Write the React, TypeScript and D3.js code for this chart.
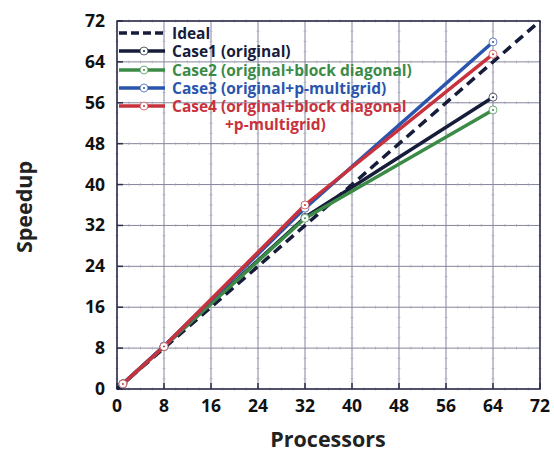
import * as d3 from 'd3';
import { useEffect, useRef } from 'react';

// processors at which each case was measured
const processors = [1, 8, 32, 64];
const case1 = [1, 8.3, 33.6, 57.1];
const case2 = [1, 8.3, 33.4, 54.6];
const case3 = [1, 8.4, 35.4, 67.9];
const case4 = [1, 8.3, 36.0, 65.5];
const idealX = [0, 72];
const ticks = [0, 8, 16, 24, 32, 40, 48, 56, 64, 72];

const series = [
  { name: 'Case1 (original)', values: case1, color: '#161c3a' },
  { name: 'Case2 (original+block diagonal)', values: case2, color: '#3b8b47' },
  { name: 'Case3 (original+p-multigrid)', values: case3, color: '#2b55ad' },
  { name: 'Case4 (original+block diagonal', extra: '+p-multigrid)', values: case4, color: '#c8323d' },
];

const App = () => {
  const ref = useRef(null);

  useEffect(() => {
    const svg = d3.select(ref.current);
    svg.selectAll('*').remove();

    const width = 554;
    const height = 452;
    const margin = { top: 21, right: 14, bottom: 63, left: 117 };
    const font = '"Open Sans", "DejaVu Sans", sans-serif';

    const x = d3.scaleLinear().domain([0, 72]).range([margin.left, width - margin.right]);
    const y = d3.scaleLinear().domain([0, 72]).range([height - margin.bottom, margin.top]);

    svg.attr('width', width).attr('height', height);

    // grid
    const grid = svg.append('g');
    ticks.forEach(t => {
      grid.append('line')
        .attr('x1', x(t)).attr('x2', x(t))
        .attr('y1', y(0)).attr('y2', y(72))
        .attr('stroke', '#85859c').attr('stroke-width', 1);
      grid.append('line')
        .attr('x1', x(0)).attr('x2', x(72))
        .attr('y1', y(t)).attr('y2', y(t))
        .attr('stroke', '#85859c').attr('stroke-width', 1);
    });
    // small minor marks along the grid lines
    const minor = d3.range(0, 73, 2).filter(v => v % 8 !== 0);
    ticks.forEach(t => {
      minor.forEach(m => {
        grid.append('line')
          .attr('x1', x(t) - 1.5).attr('x2', x(t) + 1.5)
          .attr('y1', y(m)).attr('y2', y(m))
          .attr('stroke', '#a8a8b8').attr('stroke-width', 0.7);
        grid.append('line')
          .attr('x1', x(m)).attr('x2', x(m))
          .attr('y1', y(t) - 1.5).attr('y2', y(t) + 1.5)
          .attr('stroke', '#a8a8b8').attr('stroke-width', 0.7);
      });
    });

    // frame
    svg.append('rect')
      .attr('x', x(0)).attr('y', y(72))
      .attr('width', x(72) - x(0)).attr('height', y(0) - y(72))
      .attr('fill', 'none').attr('stroke', '#2a2c48').attr('stroke-width', 1.5);

    // major ticks
    ticks.forEach(t => {
      svg.append('line')
        .attr('x1', x(t)).attr('x2', x(t))
        .attr('y1', y(0)).attr('y2', y(0) - 6)
        .attr('stroke', '#2a2c48').attr('stroke-width', 1.5);
      svg.append('line')
        .attr('x1', x(0)).attr('x2', x(0) + 6)
        .attr('y1', y(t)).attr('y2', y(t))
        .attr('stroke', '#2a2c48').attr('stroke-width', 1.5);
    });

    // tick labels
    svg.append('g').selectAll('text')
      .data(ticks).enter().append('text')
      .attr('x', d => x(d)).attr('y', y(0) + 23)
      .attr('text-anchor', 'middle')
      .style('font-family', font).style('font-size', '17.5px').style('font-weight', 'bold')
      .attr('fill', '#111')
      .text(d => d);
    svg.append('g').selectAll('text')
      .data(ticks).enter().append('text')
      .attr('x', x(0) - 12).attr('y', d => y(d) + 6)
      .attr('text-anchor', 'end')
      .style('font-family', font).style('font-size', '17.5px').style('font-weight', 'bold')
      .attr('fill', '#111')
      .text(d => d);

    // axis titles
    svg.append('text')
      .attr('x', 328).attr('y', 447)
      .attr('text-anchor', 'middle')
      .style('font-family', font).style('font-size', '21.5px').style('font-weight', 'bold')
      .attr('fill', '#222')
      .text('Processors');
    svg.append('text')
      .attr('transform', `translate(32, 207) rotate(-90)`)
      .attr('text-anchor', 'middle')
      .style('font-family', font).style('font-size', '21.5px').style('font-weight', 'bold')
      .attr('fill', '#222')
      .text('Speedup');

    // ideal
    svg.append('line')
      .attr('x1', x(idealX[0])).attr('y1', y(idealX[0]))
      .attr('x2', x(idealX[1])).attr('y2', y(idealX[1]))
      .attr('stroke', '#161c3a').attr('stroke-width', 3.5)
      .attr('stroke-dasharray', '10,6');

    const line = d3.line().x(d => x(d[0])).y(d => y(d[1]));

    series.forEach(s => {
      const pts = processors.map((p, i) => [p, s.values[i]]);
      svg.append('path')
        .attr('d', line(pts))
        .attr('fill', 'none')
        .attr('stroke', s.color).attr('stroke-width', 3.5)
        .attr('stroke-linejoin', 'round');
    });

    const marker = (cx, cy, color) => {
      svg.append('circle')
        .attr('cx', cx).attr('cy', cy).attr('r', 4)
        .attr('fill', 'white').attr('stroke', color).attr('stroke-width', 1)
        .attr('stroke-opacity', 0.7);
      svg.append('circle')
        .attr('cx', cx).attr('cy', cy).attr('r', 1)
        .attr('fill', color);
    };
    series.forEach(s => {
      processors.forEach((p, i) => marker(x(p), y(s.values[i]), s.color));
    });

    // legend
    const legend = svg.append('g');
    const rows = [{ name: 'Ideal', color: '#161c3a', dashed: true }, ...series];
    const rowY = [33, 51, 70, 88, 106];
    rows.forEach((r, i) => {
      const ly = rowY[i];
      legend.append('line')
        .attr('x1', 119).attr('x2', 165)
        .attr('y1', ly).attr('y2', ly)
        .attr('stroke', r.color).attr('stroke-width', 3.5)
        .attr('stroke-dasharray', r.dashed ? '8,4' : null);
      if (!r.dashed) {
        legend.append('circle')
          .attr('cx', 144).attr('cy', ly).attr('r', 4)
          .attr('fill', 'white').attr('stroke', r.color).attr('stroke-width', 1)
          .attr('stroke-opacity', 0.7);
        legend.append('circle').attr('cx', 144).attr('cy', ly).attr('r', 1).attr('fill', r.color);
      }
      legend.append('text')
        .attr('x', 172).attr('y', ly + 5.5)
        .style('font-family', font).style('font-size', '15.5px').style('font-weight', 'bold')
        .attr('fill', r.color)
        .text(r.name);
      if (r.extra) {
        legend.append('text')
          .attr('x', 225).attr('y', ly + 23.5)
          .style('font-family', font).style('font-size', '15.5px').style('font-weight', 'bold')
          .attr('fill', r.color)
          .text(r.extra);
      }
    });
  }, []);

  return (
    <svg ref={ref} width="554" height="452" style={{ position: 'absolute', left: 0, top: 0, background: 'white' }}></svg>
  );
};

export default App;
